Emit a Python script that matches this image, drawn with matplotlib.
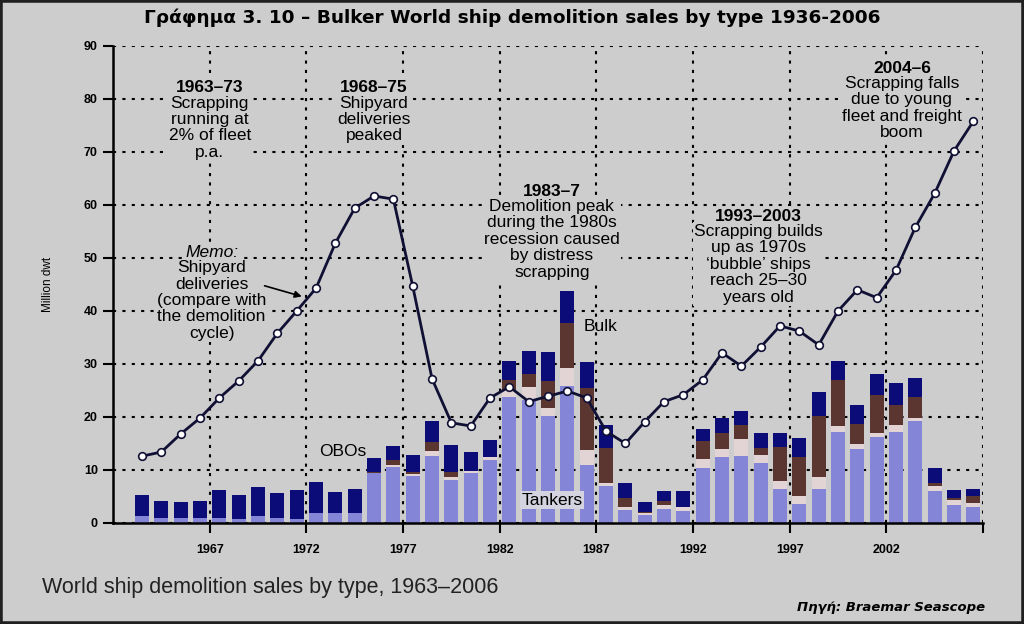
import matplotlib.pyplot as plt
import numpy as np
from matplotlib.patches import Rectangle

years = list(range(1963, 2007))

# demolition sales by type, million dwt
tankers = [1.3, 1.0, 1.0, 1.0, 0.9, 0.7, 1.3, 0.9, 0.7, 1.8, 1.9, 1.9,
           9.4, 10.5, 8.9, 12.7, 8.2, 9.4, 11.9, 23.8, 23.2, 20.1, 25.8, 10.9,
           6.9, 2.5, 1.5, 2.6, 2.3, 10.3, 12.4, 12.6, 11.4, 6.5, 3.5, 6.5,
           17.2, 13.9, 16.2, 17.2, 19.3, 6.1, 3.4, 3.1]
obos = [0, 0, 0, 0, 0, 0, 0, 0, 0, 0, 0, 0,
        0, 0.5, 0.3, 0.8, 0.5, 0.5, 0.6, 1.3, 2.5, 1.5, 3.4, 2.9,
        0.6, 0.6, 0.3, 0.8, 0.8, 1.7, 1.5, 3.2, 1.4, 1.5, 1.5, 2.1,
        1.1, 1.0, 0.8, 1.3, 0.6, 0.8, 0.9, 0.7]
bulk = [0, 0, 0, 0, 0, 0, 0, 0, 0, 0, 0, 0,
        0.2, 0.8, 0.5, 1.7, 1.0, 0, 0, 1.8, 2.5, 5.1, 8.6, 11.6,
        6.6, 1.6, 0.3, 0.8, 0, 3.5, 3.1, 2.7, 1.3, 6.3, 7.4, 11.6,
        8.6, 3.8, 7.2, 3.8, 3.8, 0.7, 0.4, 1.2]
other = [4.0, 3.15, 3.0, 3.15, 5.3, 4.5, 5.5, 4.8, 5.5, 5.9, 4.0, 4.6,
         2.6, 2.8, 3.1, 4.1, 5.1, 3.5, 3.2, 3.7, 4.3, 5.6, 6.0, 5.0,
         4.4, 2.9, 1.8, 1.8, 2.9, 2.2, 2.9, 2.7, 2.8, 2.7, 3.6, 4.6,
         3.7, 3.6, 3.9, 4.2, 3.6, 2.7, 1.5, 1.5]

# shipyard deliveries, million dwt
deliveries = [12.6, 13.4, 16.8, 19.8, 23.6, 26.8, 30.6, 35.8, 40.0, 44.3, 52.8, 59.4,
              61.7, 61.1, 44.7, 27.2, 18.9, 18.3, 23.6, 25.7, 22.9, 23.9, 24.9, 23.6,
              17.3, 15.0, 19.1, 22.9, 24.2, 27.0, 32.1, 29.6, 33.2, 37.2, 36.2, 33.6,
              40.0, 44.0, 42.5, 47.7, 55.8, 62.2, 70.2, 75.8]

bg = '#cdcdcd'
plt.rcParams['font.family'] = ['Liberation Sans', 'DejaVu Sans']

fig = plt.figure(figsize=(10.24, 6.24), dpi=100, facecolor=bg)
ax = fig.add_axes([0.1104, 0.1619, 0.8496, 0.7644], facecolor=bg)

x = np.array(years) + 0.5
t = np.array(tankers)
o = np.array(obos)
b = np.array(bulk)
w = 0.72
ax.bar(x, t, w, color='#8585d8', zorder=2)
ax.bar(x, o, w, bottom=t, color='#e2d4d4', zorder=2)
ax.bar(x, b, w, bottom=t + o, color='#5b3530', zorder=2)
ax.bar(x, other, w, bottom=t + o + b, color='#0c0c78', zorder=2)

ax.plot(x, deliveries, color='#101035', lw=2, marker='o', ms=5.5,
        mfc='white', mec='#101035', mew=1.2, zorder=4)

ax.set_xlim(1962, 2007)
ax.set_ylim(0, 90)
ax.set_xticks([1967, 1972, 1977, 1982, 1987, 1992, 1997, 2002, 2007])
ax.set_xticklabels(['1967', '1972', '1977', '1982', '1987', '1992', '1997', '2002', ''])
ax.set_yticks(range(0, 91, 10))
for lab in ax.get_xticklabels() + ax.get_yticklabels():
    lab.set_fontweight('bold')
    lab.set_fontsize(9)
ax.tick_params(axis='both', direction='out', length=7, width=1.5, colors='black', pad=4)
ax.tick_params(axis='x', pad=8)
ax.grid(True, color='black', linestyle=(0, (1.5, 3)), linewidth=1.5, zorder=0)
ax.set_axisbelow(True)
for s in ['top', 'right']:
    ax.spines[s].set_visible(False)
for s in ['left', 'bottom']:
    ax.spines[s].set_linewidth(1.8)
ax.set_ylabel('Million dwt', fontsize=8.5, labelpad=21)

box = dict(facecolor=bg, edgecolor='none', pad=1)
fs = 12.5
ls = 1.12

def note(xx, yy, head, body):
    ax.text(xx, yy, head, ha='center', va='center', fontsize=fs, fontweight='bold',
            bbox=box, zorder=3)
    ax.text(xx, yy - 1.45, body, ha='center', va='top', fontsize=fs,
            linespacing=ls, bbox=box, zorder=3)

note(1967.0, 82.1, '1963–73', 'Scrapping\nrunning at\n2% of fleet\np.a.')
note(1975.5, 82.1, '1968–75', 'Shipyard\ndeliveries\npeaked')
note(1984.7, 62.6, '1983–7', 'Demolition peak\nduring the 1980s\nrecession caused\nby distress\nscrapping')
note(1995.4, 57.9, '1993–2003', 'Scrapping builds\nup as 1970s\n‘bubble’ ships\nreach 25–30\nyears old')
note(2002.8, 85.8, '2004–6', 'Scrapping falls\ndue to young\nfleet and freight\nboom')

ax.text(1967.1, 51.1, 'Memo:', ha='center', va='center', fontsize=fs, style='italic',
        bbox=box, zorder=3)
ax.text(1967.1, 49.6, 'Shipyard\ndeliveries\n(compare with\nthe demolition\ncycle)',
        ha='center', va='top', fontsize=fs, linespacing=ls, bbox=box, zorder=3)
ax.annotate('', xy=(1971.9, 42.6), xytext=(1969.7, 44.9),
            arrowprops=dict(arrowstyle='-|>', color='black', lw=1.2, mutation_scale=10),
            zorder=5)

ax.text(1973.9, 13.4, 'OBOs', ha='center', va='center', fontsize=fs, zorder=3)
ax.text(1987.2, 37.0, 'Bulk', ha='center', va='center', fontsize=fs, zorder=3)
ax.text(1984.7, 4.3, 'Tankers', ha='center', va='center', fontsize=fs, zorder=5,
        bbox=dict(facecolor='#d4d4e0', edgecolor='none', pad=1))

fig.text(0.5, 0.972, 'Γράφημα 3. 10 – Bulker World ship demolition sales by type 1936-2006',
         ha='center', va='center', fontsize=13.3, fontweight='bold',
         family=['DejaVu Sans'])
fig.text(0.041, 0.058, 'World ship demolition sales by type, 1963–2006',
         ha='left', va='center', fontsize=15.5, color='#222222')
fig.text(0.962, 0.026, 'Πηγή: Braemar Seascope', ha='right', va='center',
         fontsize=9.5, fontweight='bold', style='italic', family=['DejaVu Sans'])

fig.patches.append(Rectangle((0, 0), 1, 1, transform=fig.transFigure, fill=False,
                             edgecolor='#202020', linewidth=4))

fig.savefig('out.png', dpi=100, facecolor=bg)
